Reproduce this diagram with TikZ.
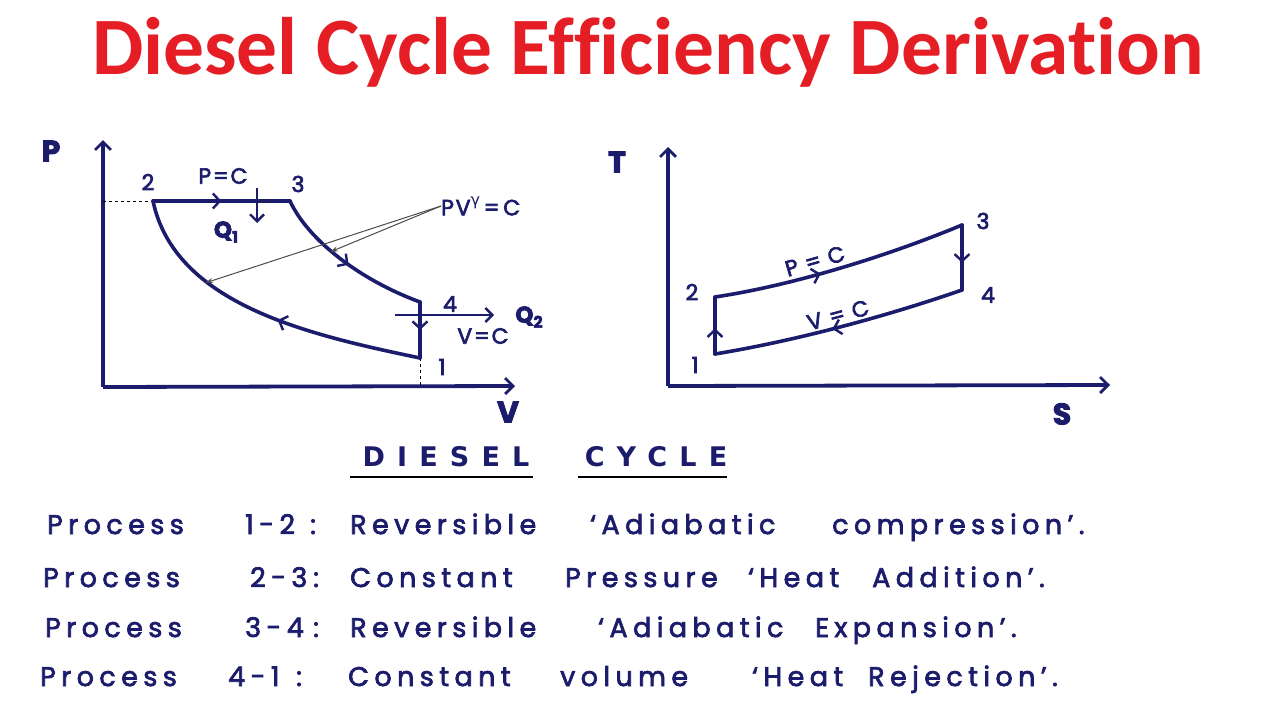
\documentclass[tikz,border=0pt]{standalone}
\usepackage{fontspec}
\setmainfont{Poppins}
\newfontfamily\titlefont{Carlito}[Ligatures=NoCommon]
\newfontfamily\hand{Poppins}[LetterSpace=20,FakeBold=2.5]
\newfontfamily\lab{Poppins}[LetterSpace=8,FakeBold=3]
\newfontfamily\grk{DejaVu Sans}
\newfontfamily\capsfont{DejaVu Sans}[LetterSpace=45]
\usetikzlibrary{arrows.meta,decorations.markings}
\definecolor{ink}{RGB}{28,28,108}
\definecolor{titlered}{RGB}{229,30,37}
\tikzset{
  x=1pt,y=-1pt,
  curve/.style={draw=ink,line width=3.6pt,line join=round,line cap=round},
  axis/.style={draw=ink,line width=3.8pt,-{Straight Barb[length=8pt,width=16pt,line width=2.8pt]}},
  midarrow/.style={postaction={decorate},decoration={markings,mark=at position #1 with {\arrow[ink,line width=2.4pt]{Straight Barb[length=7pt,width=15pt]}}}},
  guide/.style={draw=black!70,line width=1pt,-{Stealth[length=8pt,width=5pt]}},
  dashline/.style={draw=black,line width=0.9pt,dashed},
  heat/.style={draw=ink,line width=2.8pt,-{Straight Barb[length=7pt,width=14pt,line width=2.4pt]}},
  hw/.style={anchor=base west,inner sep=0pt,font=\hand\fontsize{27}{30}\selectfont,text=ink},
  lbl/.style={inner sep=0pt,font=\lab\fontsize{22}{26}\selectfont,text=ink},
  axl/.style={inner sep=0pt,font=\lab\bfseries\fontsize{30}{34}\selectfont,text=ink},
  capt/.style={inner sep=0pt,text=ink,font=\capsfont\bfseries\fontsize{27}{30}\selectfont},
}
\begin{document}
\begin{tikzpicture}
\fill[white] (0,0) rectangle (1280,720);
\useasboundingbox (0,0) rectangle (1280,720);

% title
\node[inner sep=0pt,anchor=base,text=titlered,font=\titlefont\bfseries\fontsize{81.5}{90}\selectfont] (title) at (648,74) {Diesel Cycle Efficiency Derivation};

% ---------------- P-V diagram ----------------
\coordinate (O1) at (103,387);
\coordinate (Ptop) at (103,140);
\coordinate (Vend) at (515,386);
\draw[axis] (O1) -- (Ptop);
\draw[axis] (O1) -- (Vend);
\node[axl] (Plab) at (51,151) {P};
\node[axl] (Vlab) at (508,412) {V};

\coordinate (p2) at (153,201);
\coordinate (p3) at (290,201);
\coordinate (p4) at (420,302);
\coordinate (p1) at (420,358);
\coordinate (pd) at (103,201);
\coordinate (vd) at (420,386);
\draw[dashline] (pd) -- (p2);
\draw[dashline] (p1) -- (vd);

\draw[curve,midarrow=0.5] (p2) -- (p3);
\draw[curve,midarrow=0.52] (p3) .. controls (308,240) and (360,280) .. (p4);
\draw[curve,midarrow=0.5] (p4) -- (p1);
\draw[curve,midarrow=0.45] (p1) .. controls (310,335) and (175,305) .. (p2);

\coordinate (q1a) at (257,188);
\coordinate (q1b) at (257,223);
\draw[heat] (q1a) -- (q1b);
\coordinate (q2a) at (395,315);
\coordinate (q2b) at (494,315);
\draw[heat] (q2a) -- (q2b);

\node[lbl] (n2) at (148,182) {2};
\node[lbl] (pc1) at (223,176) {P=C};
\node[lbl] (n3) at (298,184) {3};
\node[lbl,font=\lab\bfseries\fontsize{23}{26}\selectfont] (Q1) at (226,232) {Q\raisebox{-5pt}{\fontsize{16}{18}\selectfont 1}};
\node[lbl] (n4) at (450,304) {4};
\node[lbl,font=\lab\bfseries\fontsize{23}{26}\selectfont] (Q2) at (529,317) {Q\raisebox{-5pt}{\fontsize{16}{18}\selectfont 2}};
\node[lbl] (vc1) at (483,336) {V=C};
\node[lbl] (n1) at (442,367) {1};

\node[lbl,anchor=west] (pvc) at (441,206) {PV\raisebox{10pt}{\grk\fontsize{16}{18}\selectfont γ}\,=\,C};
\coordinate (g1) at (330,252);
\coordinate (g2) at (205,283);
\draw[guide] (pvc.west) -- (g1);
\draw[guide] (pvc.west) -- (g2);

% ---------------- T-S diagram ----------------
\coordinate (O2) at (668,386);
\coordinate (Ttop) at (668,147);
\coordinate (Send) at (1110,385);
\draw[axis] (O2) -- (Ttop);
\draw[axis] (O2) -- (Send);
\node[axl] (Tlab) at (617,162) {T};
\node[axl] (Slab) at (1062,414) {S};

\coordinate (t1) at (715,354);
\coordinate (t2) at (715,297);
\coordinate (t3) at (962,225);
\coordinate (t4) at (962,290);
\draw[curve,midarrow=0.45] (t1) -- (t2);
\draw[curve,midarrow=0.42] (t2) .. controls (795,285) and (890,255) .. (t3);
\draw[curve,midarrow=0.58] (t3) -- (t4);
\draw[curve,midarrow=0.53] (t4) .. controls (890,315) and (800,340) .. (t1);

\node[lbl] (m1) at (695,365) {1};
\node[lbl] (m2) at (692,292) {2};
\node[lbl] (m3) at (983,221) {3};
\node[lbl] (m4) at (988,295) {4};
\node[lbl,rotate=16] (pc2) at (815,261) {P = C};
\node[lbl,rotate=15] (vc2) at (838,315) {V = C};

% ---------------- caption ----------------
\node[capt] (dsl) at (446,457) {DIESEL};
\node[capt] (cyc) at (656,457) {CYCLE};
\coordinate (u1a) at (350,477);
\coordinate (u1b) at (533,477);
\coordinate (u2a) at (578,477);
\coordinate (u2b) at (727,477);
\draw[black,line width=1.3pt] (u1a) -- (u1b);
\draw[black,line width=1.3pt] (u2a) -- (u2b);

% ---------------- process list ----------------
\node[hw] (a1) at (47,534) {Process};
\node[hw] (a2) at (245,534) {1-2};
\node[hw] (a2c) at (310,534) {:};
\node[hw] (a3) at (350,534) {Reversible};
\node[hw] (a4) at (590,534) {‘Adiabatic};
\node[hw] (a5) at (832,534) {compression’.};

\node[hw] (b1) at (43,587) {Process};
\node[hw] (b2) at (250,587) {2-3};
\node[hw] (b2c) at (313,587) {:};
\node[hw] (b3) at (350,587) {Constant};
\node[hw] (b4) at (565,587) {Pressure};
\node[hw] (b5) at (748,587) {‘Heat};
\node[hw] (b6) at (872,587) {Addition’.};

\node[hw] (c1) at (45,637) {Process};
\node[hw] (c2) at (245,637) {3-4};
\node[hw] (c2c) at (313,637) {:};
\node[hw] (c3) at (350,637) {Reversible};
\node[hw] (c4) at (598,637) {‘Adiabatic};
\node[hw] (c5) at (815,637) {Expansion’.};

\node[hw] (d1) at (40,686) {Process};
\node[hw] (d2) at (228,686) {4-1};
\node[hw] (d2c) at (296,686) {:};
\node[hw] (d3) at (348,686) {Constant};
\node[hw] (d4) at (560,686) {volume};
\node[hw] (d5) at (752,686) {‘Heat};
\node[hw] (d6) at (868,686) {Rejection’.};
\end{tikzpicture}
\end{document}
